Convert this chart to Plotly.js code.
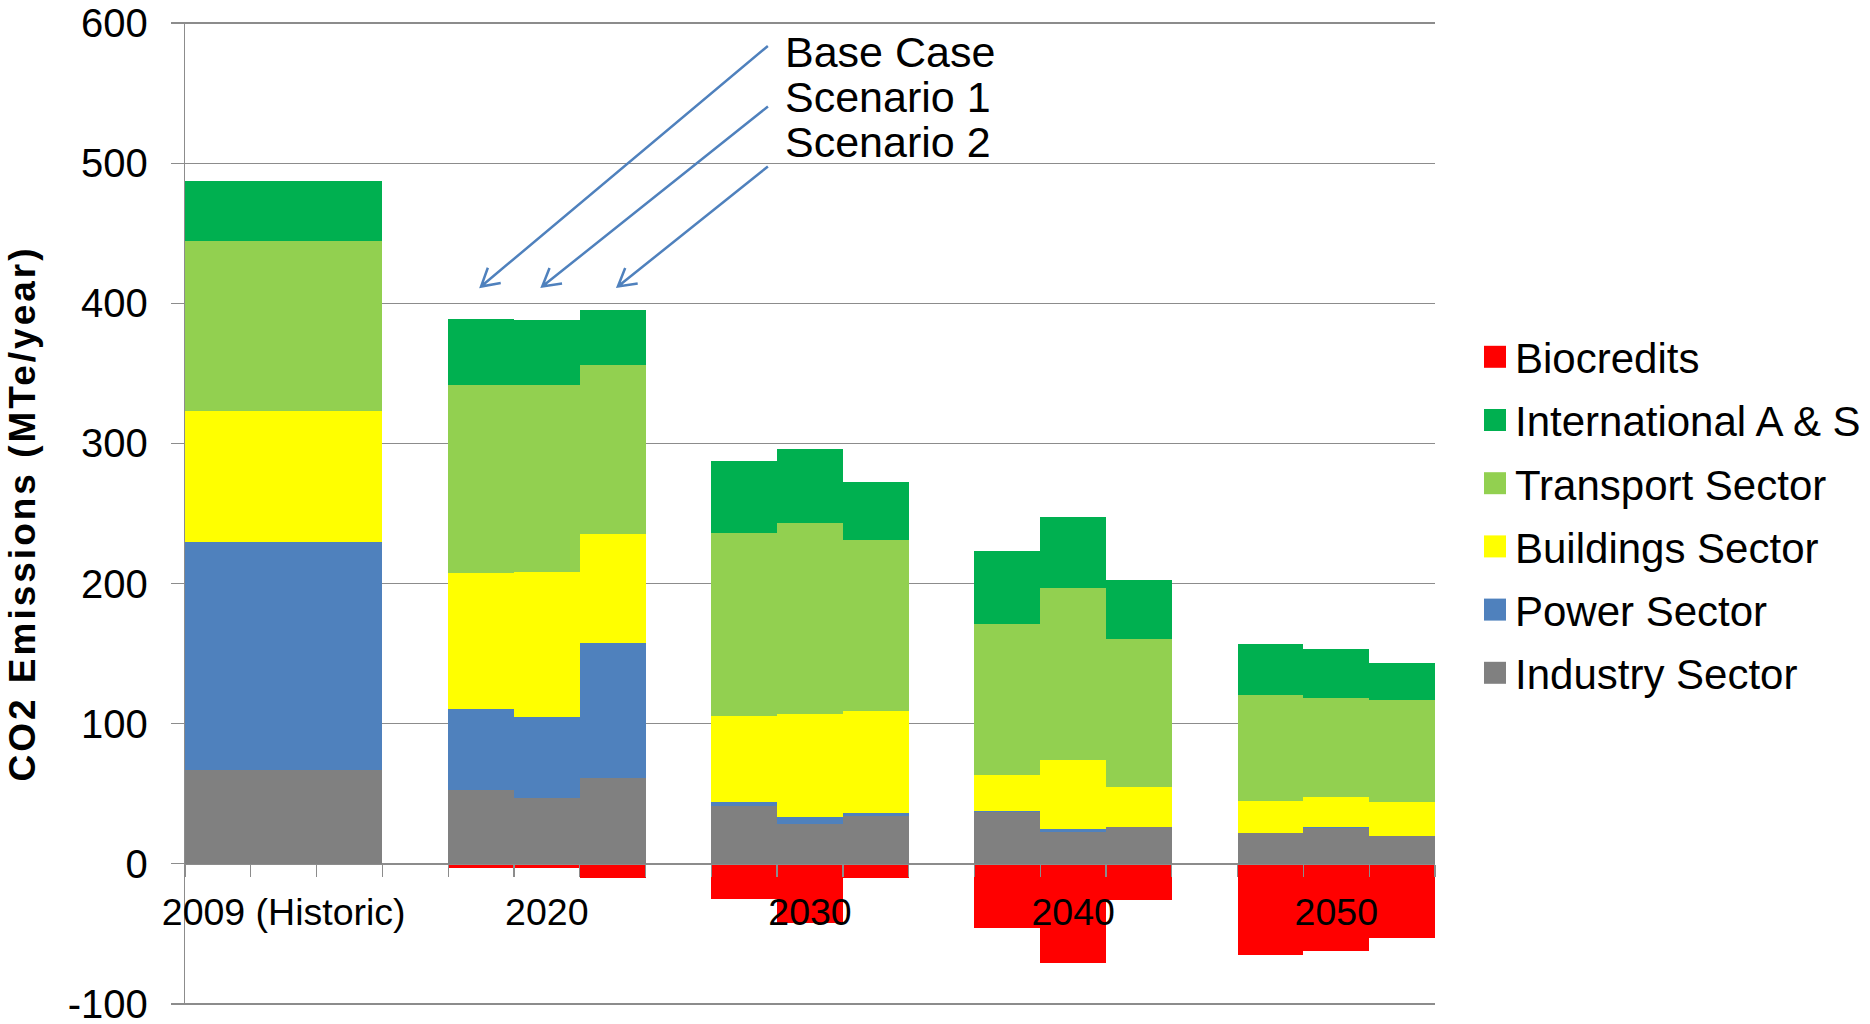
<!DOCTYPE html>
<html>
<head>
<meta charset="utf-8">
<script src="https://cdn.plot.ly/plotly-3.0.1.min.js"></script>
<style>
  html, body { margin: 0; padding: 0; background: #fff; }
  #chart { width: 1870px; height: 1024px; }
  .ytitle { letter-spacing: 3px; }
</style>
</head>
<body>
<div id="chart"></div>
<script>
// ---- data (MTe/year) ----
const groups = ['2009 (Historic)', '2020', '2030', '2040', '2050'];
const scenarios = ['Base Case', 'Scenario 1', 'Scenario 2'];
const seriesNames = ['Industry Sector', 'Power Sector', 'Buildings Sector', 'Transport Sector', 'International A & S', 'Biocredits'];
const seriesColors = ['#808080', '#4F81BD', '#FFFF00', '#92D050', '#00B050', '#FF0000'];

// each array: 5 groups x 3 scenarios (historic shown for all three)
const industry  = [67, 67, 67,   53, 47.3, 61.5,   41, 28.3, 34,   37, 22.6, 26,   22.1, 25.4, 19.5];
const power     = [163, 163, 163, 57.5, 57.3, 96.2, 3, 5.2, 2.4,   1, 2.4, -1,     0, 0.7, 0];
const buildings = [93.5, 93.5, 93.5, 97, 103.3, 78, 61.7, 73.6, 72.6, 25.7, 49.1, 28.5, 23, 21.7, 24.5];
const transport = [121, 121, 121, 134.5, 133.5, 120.5, 130.2, 136.4, 121.9, 107.3, 122.4, 105.8, 75.6, 70.5, 73.1];
const intlAS    = [43, 43, 43,   47, 47, 39.4,     51.3, 52.3, 41.6, 51.9, 50.8, 42.3, 35.9, 34.7, 26.4];
const biocredits= [0, 0, 0,      -3, -3, -10,      -25, -42, -10,  -46, -71, -25,  -65, -62, -53];
const seriesValues = [industry, power, buildings, transport, intlAS, biocredits];

// y-axis ticks
const yTicks = [-100, 0, 100, 200, 300, 400, 500, 600];
const yTickText = ['-100', '0', '100', '200', '300', '400', '500', '600'];

// ---- layout geometry ----
const slotsPerGroup = scenarios.length + 1;               // 3 bars + 1 empty slot
const nSlots = groups.length * slotsPerGroup - 1;          // 19
const xRange = [-0.5, nSlots - 0.5];
const yRange = [-100.8, 600.8];
const M = { l: 185, r: 435, t: 22, b: 19 };
const W = 1870, H = 1024;
const plotW = W - M.l - M.r, plotH = H - M.t - M.b;

const xPos = [];
groups.forEach((g, gi) => scenarios.forEach((s, si) => xPos.push(gi * slotsPerGroup + si)));
const groupCenters = groups.map((g, gi) => gi * slotsPerGroup + (scenarios.length - 1) / 2);
const boundaries = [];
for (let i = 0; i <= nSlots; i++) boundaries.push(i - 0.5);

const FONT = 'Liberation Sans, Arial, Helvetica, sans-serif';
const GRID = '#8c8c8c';
const zeroPos = (0 - yRange[0]) / (yRange[1] - yRange[0]);

const traces = seriesNames.map((name, i) => ({
  type: 'bar',
  name: name,
  x: xPos,
  y: seriesValues[i],
  width: 1,
  marker: { color: seriesColors[i], line: { width: 0 } },
  legendgroup: 'g' + i,
  legendrank: seriesNames.length - i,
  hoverinfo: 'skip'
}));
// carrier for the category labels axis
traces.push({ type: 'scatter', x: [], y: [], xaxis: 'x2', yaxis: 'y', showlegend: false, hoverinfo: 'skip' });

// ---- scenario pointers (annotation) ----
const pointerText = scenarios;
const pointerTextPos = [[8.585, 579.5], [8.585, 547.4], [8.585, 515.3]];
const pointerTail = [[8.36, 583.7], [8.36, 540.5], [8.36, 497.7]];
const pointerTip = [[4.0, 412], [4.93, 412], [6.08, 412]];

const pxPerX = plotW / (xRange[1] - xRange[0]);
const pxPerY = plotH / (yRange[1] - yRange[0]);
const shapes = pointerTip.map((tip, i) => {
  const tail = pointerTail[i];
  const dx = (tail[0] - tip[0]) * pxPerX;
  const dy = (tail[1] - tip[1]) * pxPerY;
  const len = Math.hypot(dx, dy);
  const ux = dx / len, uy = dy / len;
  const hl = 20, a = Math.PI / 6;
  const h1x = hl * (ux * Math.cos(a) - uy * Math.sin(a));
  const h1y = hl * (ux * Math.sin(a) + uy * Math.cos(a));
  const h2x = hl * (ux * Math.cos(-a) - uy * Math.sin(-a));
  const h2y = hl * (ux * Math.sin(-a) + uy * Math.cos(-a));
  return {
    type: 'path', xref: 'x', yref: 'y',
    xsizemode: 'pixel', ysizemode: 'pixel',
    xanchor: tip[0], yanchor: tip[1],
    path: `M${dx.toFixed(1)},${dy.toFixed(1)}L0,0M${h1x.toFixed(1)},${h1y.toFixed(1)}L0,0L${h2x.toFixed(1)},${h2y.toFixed(1)}`,
    line: { color: '#4F81BD', width: 2.5 },
    layer: 'above'
  };
});

const annotations = pointerText.map((t, i) => ({
  text: t, xref: 'x', yref: 'y', x: pointerTextPos[i][0], y: pointerTextPos[i][1],
  xanchor: 'left', yanchor: 'middle', showarrow: false,
  font: { family: FONT, size: 43, color: '#000' }
}));

const layout = {
  width: W, height: H,
  margin: M,
  paper_bgcolor: '#fff', plot_bgcolor: '#fff',
  barmode: 'relative', bargap: 0,
  showlegend: true,
  legend: {
    xref: 'container', yref: 'container',
    x: 1475 / W, xanchor: 'left', y: 1 - 515 / H, yanchor: 'middle',
    font: { family: FONT, size: 42, color: '#000' },
    traceorder: 'grouped', tracegroupgap: 5.6,
    bgcolor: 'rgba(0,0,0,0)', borderwidth: 0
  },
  xaxis: {
    range: xRange, anchor: 'free', position: zeroPos,
    tickmode: 'array', tickvals: boundaries, showticklabels: false,
    ticks: 'outside', ticklen: 12, tickwidth: 1.3, tickcolor: GRID,
    showline: true, linecolor: GRID, linewidth: 1.3,
    showgrid: false, zeroline: false, fixedrange: true
  },
  xaxis2: {
    overlaying: 'x', matches: 'x', range: xRange,
    anchor: 'free', position: zeroPos,
    tickmode: 'array', tickvals: groupCenters, ticktext: groups,
    ticks: '', ticklabelstandoff: 23, ticklabeloverflow: 'allow',
    tickfont: { family: FONT, size: 37.5, color: '#000' },
    showline: false, showgrid: false, zeroline: false
  },
  yaxis: {
    range: yRange, tickmode: 'array', tickvals: yTicks, ticktext: yTickText,
    ticks: 'outside', ticklen: 13, tickwidth: 1.3, tickcolor: GRID,
    showline: true, linecolor: GRID, linewidth: 1.3,
    showgrid: true, gridcolor: GRID, gridwidth: 1.3, zeroline: false,
    tickfont: { family: FONT, size: 40, color: '#000' },
    ticklabelstandoff: 15, ticklabeloverflow: 'allow',
    title: { text: 'CO2 Emissions (MTe/year)', standoff: 20,
             font: { family: FONT, size: 37, color: '#000', weight: 'bold' } },
    fixedrange: true
  },
  shapes: shapes,
  annotations: annotations
};

Plotly.newPlot('chart', traces, layout, { displayModeBar: false, staticPlot: true }).then(() => {
  document.querySelectorAll('.legend .legendpoints path').forEach(p => {
    p.setAttribute('d', 'M11,11H-11V-11H11Z');
  });
});
</script>
</body>
</html>
